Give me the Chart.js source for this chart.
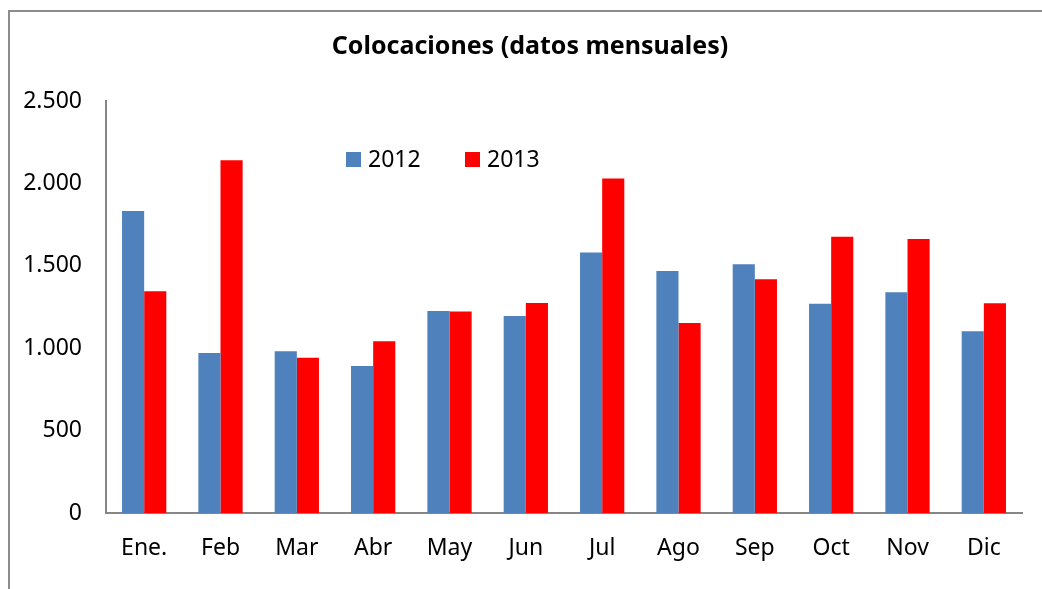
<!DOCTYPE html>
<html>
<head>
<meta charset="utf-8">
<script src="https://cdn.jsdelivr.net/npm/chart.js@4"></script>
<style>
  html, body { margin: 0; padding: 0; background: #fff; }
  #wrap { position: relative; width: 1042px; height: 589px; overflow: hidden; }
  #frame { position: absolute; left: 8px; top: 10px; width: 1100px; height: 700px;
           border-left: 2px solid #8c8c8c; border-top: 2px solid #8c8c8c; }
  canvas { position: absolute; left: 0; top: 0; }
</style>
</head>
<body>
<div id="wrap">
  <div id="frame"></div>
  <canvas id="chart" width="1042" height="589"></canvas>
</div>
<script>
const months = ['Ene.', 'Feb', 'Mar', 'Abr', 'May', 'Jun', 'Jul', 'Ago', 'Sep', 'Oct', 'Nov', 'Dic'];
const serie2012 = [1833, 971, 981, 892, 1226, 1196, 1580, 1468, 1509, 1270, 1339, 1103];
const serie2013 = [1345, 2140, 942, 1042, 1222, 1274, 2029, 1153, 1418, 1677, 1663, 1273];
const seriesLabels = ['2012', '2013'];
const yTicks = [0, 500, 1000, 1500, 2000, 2500];
const chartTitle = 'Colocaciones (datos mensuales)';

const FONT = '"Noto Sans", sans-serif';
const AXIS = '#868686';

// título y leyenda dibujados a mano (la leyenda va dentro del área del gráfico)
const extras = {
  id: 'extras',
  afterDraw(chart) {
    const ctx = chart.ctx;
    ctx.save();
    ctx.fillStyle = '#000';
    ctx.font = 'bold 25px ' + FONT;
    ctx.textAlign = 'center';
    ctx.textBaseline = 'middle';
    ctx.fillText(chartTitle, 530, 47);

    const pos = [346, 465];
    ctx.font = '23px ' + FONT;
    ctx.textAlign = 'left';
    chart.data.datasets.forEach((ds, i) => {
      ctx.fillStyle = ds.backgroundColor;
      ctx.fillRect(pos[i], 152, 15, 15);
      ctx.fillStyle = '#000';
      ctx.fillText(ds.label, pos[i] + 22, 160);
    });
    ctx.restore();
  }
};

new Chart(document.getElementById('chart'), {
  type: 'bar',
  data: {
    labels: months,
    datasets: [
      { label: seriesLabels[0], data: serie2012, backgroundColor: '#4F81BD' },
      { label: seriesLabels[1], data: serie2013, backgroundColor: '#FF0000' }
    ]
  },
  options: {
    responsive: false,
    animation: false,
    layout: { padding: { left: 0, right: 20, top: 101, bottom: 0 } },
    datasets: { bar: { barPercentage: 1, categoryPercentage: 0.58 } },
    plugins: {
      legend: { display: false },
      tooltip: { enabled: false },
      title: { display: false }
    },
    scales: {
      x: {
        grid: { display: false, drawTicks: false },
        border: { display: true, color: AXIS, width: 2 },
        ticks: { color: '#000', font: { family: FONT, size: 23 }, padding: 22 },
        afterFit(scale) { scale.height = 76; }
      },
      y: {
        min: 0,
        max: 2500,
        grid: { display: false, drawTicks: false },
        border: { display: true, color: AXIS, width: 2 },
        afterBuildTicks(scale) { scale.ticks = yTicks.map(v => ({ value: v })); },
        ticks: {
          color: '#000',
          font: { family: FONT, size: 23 },
          padding: 24,
          callback: v => v.toLocaleString('de-DE')
        },
        afterFit(scale) { scale.width = 106; }
      }
    }
  },
  plugins: [extras]
});
</script>
</body>
</html>
